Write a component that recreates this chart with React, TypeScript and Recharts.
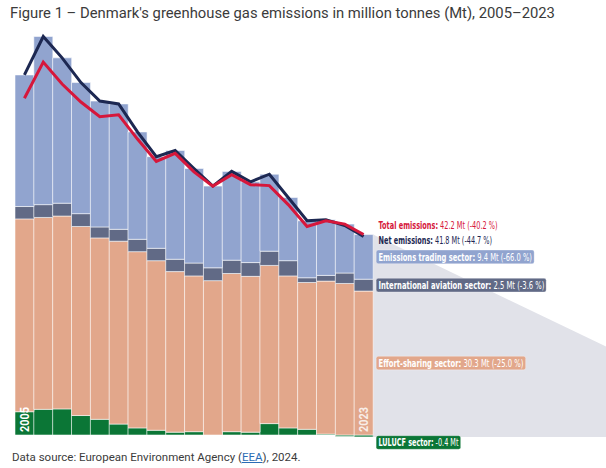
import React from 'react';
import { ComposedChart, Bar, Line, XAxis, YAxis, ReferenceArea, LabelList } from 'recharts';

const years = ['2005', '2006', '2007', '2008', '2009', '2010', '2011', '2012', '2013', '2014', '2015', '2016', '2017', '2018', '2019', '2020', '2021', '2022', '2023'];
// Mt CO2-eq
const lulucf = [4.9, 5.4, 5.5, 4.1, 3.3, 2.3, 1.5, 1.0, 0.6, 0.7, 0.0, 0.7, 0.6, 2.4, 1.5, 1.2, 0.2, -0.3, -0.4];
const effortSharing = [40.6, 40.4, 40.6, 39.8, 38.2, 38.5, 37.1, 35.7, 33.8, 32.8, 32.5, 33.3, 32.8, 33.3, 32.0, 30.9, 32.2, 31.9, 30.3];
const aviation = [2.6, 2.7, 2.7, 2.7, 2.3, 2.5, 2.6, 2.6, 2.6, 2.7, 2.7, 2.8, 2.9, 3.0, 3.2, 1.0, 1.2, 2.2, 2.5];
const emissionsTrading = [27.7, 35.4, 30.6, 27.6, 26.5, 26.4, 22.6, 19.3, 22.9, 19.9, 17.2, 18.7, 17.0, 16.2, 13.3, 12.0, 11.7, 10.3, 9.4];

const labelTexts = {
  total: ['Total emissions:', ' 42.2 Mt (-40.2 %)'],
  net: ['Net emissions:', ' 41.8 Mt (-44.7 %)'],
  ets: ['Emissions trading sector:', ' 9.4 Mt (-66.0 %)'],
  aviation: ['International aviation sector:', ' 2.5 Mt (-3.6 %)'],
  esr: ['Effort-sharing sector:', ' 30.3 Mt (-25.0 %)'],
  lulucf: ['LULUCF sector:', ' -0.4 Mt'],
};

const COLORS = {
  lulucf: '#0b7636',
  esr: '#e2a78b',
  aviation: '#616a86',
  ets: '#91a4cf',
  total: '#d6173b',
  net: '#1d2852',
  shade: '#e1e2e9',
};

const data = years.map((year, i) => {
  const total = effortSharing[i] + aviation[i] + emissionsTrading[i];
  return {
    year,
    lulucf: lulucf[i],
    esr: effortSharing[i],
    aviation: aviation[i],
    ets: emissionsTrading[i],
    total,
    net: total + lulucf[i],
  };
});

const LAST = years.length - 1;
const LABEL_FONT = '"Liberation Sans Narrow", "DejaVu Sans Condensed", "Roboto Condensed", sans-serif';

const box = (p: any) => {
  const vb = p.viewBox ?? p;
  const x = vb.x, y = vb.y, w = vb.width ?? 0, h = vb.height ?? 0;
  return { x, w, top: Math.min(y, y + h), bottom: Math.max(y, y + h) };
};

const boxLabel = (key: keyof typeof labelTexts, fill: string, x0: number, cy: number, boxW: number, textW: number) => {
  const [bold, rest] = labelTexts[key];
  return (
    <g key={key}>
      <rect x={x0} y={cy - 6.8} width={boxW} height={13.6} rx={2} fill={fill} stroke="#ffffff" strokeOpacity={0.5} strokeWidth={0.6} />
      <text x={x0 + 2.3} y={cy + 3.8} fill="#ffffff" fontSize={11} fontFamily={LABEL_FONT} textLength={textW} lengthAdjust="spacingAndGlyphs">
        <tspan fontWeight={700}>{bold}</tspan>
        <tspan>{rest}</tspan>
      </text>
    </g>
  );
};

const yearText = (label: string, cx: number, base: number, fill: string) => (
  <text
    key={label}
    transform={`translate(${cx + 4.6}, ${base - 3}) rotate(-90)`}
    fill={fill}
    fontSize={12}
    fontWeight={700}
    fontFamily="Roboto, sans-serif"
    textLength={25}
    lengthAdjust="spacingAndGlyphs"
  >
    {label}
  </text>
);

const makeBoxLabel = (key: keyof typeof labelTexts, fill: string, boxW: number, textW: number) =>
  (p: any) => {
    if (p.index !== LAST) return null;
    const b = box(p);
    return boxLabel(key, fill, b.x + b.w + 3, (b.top + b.bottom) / 2, boxW, textW);
  };

// effort-sharing bar of the last year also carries the LULUCF tag and the "2023" tag at its base
const EsrLabels = (p: any) => {
  if (p.index !== LAST) return null;
  const b = box(p);
  const x0 = b.x + b.w + 3;
  return (
    <g>
      {boxLabel('esr', COLORS.esr, x0, (b.top + b.bottom) / 2, 149.5, 145)}
      {boxLabel('lulucf', COLORS.lulucf, x0, b.bottom + 7.5, 84.5, 80)}
      {yearText(years[LAST], b.x + b.w / 2, b.bottom, '#f8eee8')}
    </g>
  );
};

const FirstYearLabel = (p: any) => {
  if (p.index !== 0) return null;
  const b = box(p);
  return yearText(years[0], b.x + b.w / 2, b.bottom, '#ffffff');
};

const makeLineLabel = (key: keyof typeof labelTexts, fill: string, dy: number, textW: number) =>
  (p: any) => {
    if (p.index !== LAST) return null;
    const vb = p.viewBox ?? p;
    const [bold, rest] = labelTexts[key];
    return (
      <text x={vb.x + 15} y={vb.y + dy} fill={fill} fontSize={11} fontFamily={LABEL_FONT} textLength={textW} lengthAdjust="spacingAndGlyphs">
        <tspan fontWeight={700}>{bold}</tspan>
        <tspan>{rest}</tspan>
      </text>
    );
  };

const Shade = (p: any) => {
  const { x, y, width, height } = p;
  const left = x + width;
  const right = left + 233;
  return (
    <polygon
      points={`${left},${y} ${right},${y + 112} ${right},${y + height} ${left},${y + height}`}
      fill={COLORS.shade}
    />
  );
};

export default function App() {
  return (
    <div style={{ position: 'relative', width: 606, height: 468, background: '#ffffff', overflow: 'hidden' }}>
      <style>{'body{margin:0}'}</style>
      <div style={{ position: 'absolute', left: 10, top: 4, fontFamily: 'Roboto, sans-serif', fontSize: 14.8, color: '#3b3b3b', whiteSpace: 'nowrap' }}>
        Figure 1 – Denmark's greenhouse gas emissions in million tonnes (Mt), 2005–2023
      </div>
      <div style={{ position: 'absolute', left: 0, top: 0 }}>
        <ComposedChart
          width={606}
          height={468}
          data={data}
          margin={{ top: 17, right: 233, bottom: 23.5, left: 15 }}
          stackOffset="sign"
          barCategoryGap={0}
          barGap={0}
        >
          <XAxis dataKey="year" hide />
          <YAxis hide type="number" domain={[-2, 88]} allowDataOverflow />
          <ReferenceArea x1={years[LAST]} x2={years[LAST]} y1={lulucf[LAST]} y2={data[LAST].total} ifOverflow="visible" shape={<Shade />} />
          <Bar dataKey="lulucf" stackId="s" fill={COLORS.lulucf} stroke="#ffffff" strokeOpacity={0.55} strokeWidth={1} isAnimationActive={false}>
            <LabelList dataKey="lulucf" content={FirstYearLabel} />
          </Bar>
          <Bar dataKey="esr" stackId="s" fill={COLORS.esr} stroke="#ffffff" strokeOpacity={0.55} strokeWidth={1} isAnimationActive={false}>
            <LabelList dataKey="esr" content={EsrLabels} />
          </Bar>
          <Bar dataKey="aviation" stackId="s" fill={COLORS.aviation} stroke="#ffffff" strokeOpacity={0.55} strokeWidth={1} isAnimationActive={false}>
            <LabelList dataKey="aviation" content={makeBoxLabel('aviation', COLORS.aviation, 170, 166)} />
          </Bar>
          <Bar dataKey="ets" stackId="s" fill={COLORS.ets} stroke="#ffffff" strokeOpacity={0.55} strokeWidth={1} isAnimationActive={false}>
            <LabelList dataKey="ets" content={makeBoxLabel('ets', COLORS.ets, 158, 153.5)} />
          </Bar>
          <Line type="linear" dataKey="net" stroke={COLORS.net} strokeWidth={3} dot={false} isAnimationActive={false}>
            <LabelList dataKey="net" content={makeLineLabel('net', COLORS.net, 8, 113.5)} />
          </Line>
          <Line type="linear" dataKey="total" stroke={COLORS.total} strokeWidth={3} dot={false} isAnimationActive={false}>
            <LabelList dataKey="total" content={makeLineLabel('total', COLORS.total, -5.5, 119)} />
          </Line>
        </ComposedChart>
      </div>
      <div style={{ position: 'absolute', left: 12, top: 450, fontFamily: 'Roboto, sans-serif', fontSize: 11.5, color: '#3b3b3b', whiteSpace: 'nowrap' }}>
        Data source: European Environment Agency (
        <span style={{ color: '#2b6cb5', textDecoration: 'underline' }}>EEA</span>
        ), 2024.
      </div>
    </div>
  );
}
